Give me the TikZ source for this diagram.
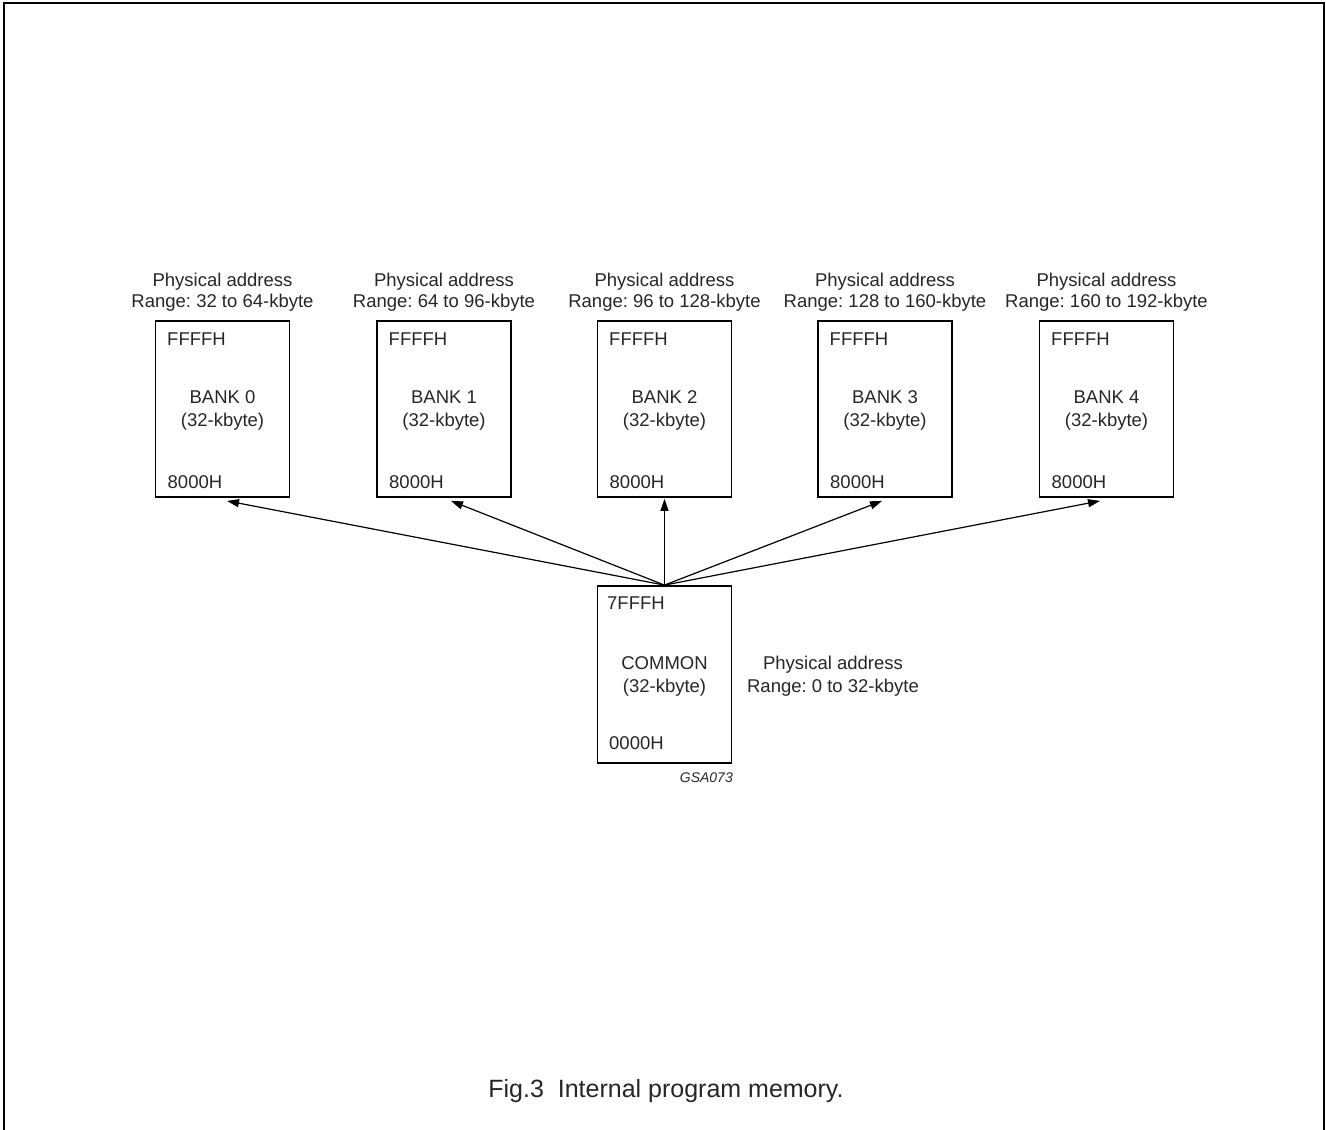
\documentclass[tikz,border=0pt]{standalone}
\usepackage{fontspec}
\setmainfont{Liberation Sans}
\usetikzlibrary{arrows.meta}
\frenchspacing
\begin{document}
\begin{tikzpicture}[x=1pt,y=-1pt,
  every node/.style={font=\fontsize{18.5}{22}\selectfont, inner sep=0pt, text=black!85},
  mem/.style={draw, line width=1.8pt, minimum width=134pt, minimum height=176pt},
  lbl/.style={anchor=base west},
  ctr/.style={anchor=base},
  arr/.style={line width=1.2pt, -{Triangle[length=12pt,width=8pt]}},
  capt/.style={anchor=base, font=\fontsize{25}{30}\selectfont}]
\useasboundingbox (0,0) rectangle (1326,1130);
\draw[line width=2pt] (4,1130) -- (4,3) -- (1324,3) -- (1324,1130);

% banks
\foreach \i/\cx/\lo/\hi in {0/222.5/32/64, 1/444/64/96, 2/664.5/96/128, 3/885/128/160, 4/1106.5/160/192} {
  \node[mem] (b\i) at (\cx,409) {};
  \node[ctr] (pa\i) at (\cx,286) {Physical address};
  \node[ctr] (rg\i) at (\cx,307) {Range: \lo{} to \hi-kbyte};
  \node[lbl] (top\i) at (\cx-55.5,345.5) {FFFFH};
  \node[ctr] (nm\i) at (\cx,403.5) {BANK \i};
  \node[ctr] (sz\i) at (\cx,426.5) {(32-kbyte)};
  \node[lbl] (bot\i) at (\cx-55,488.5) {8000H};
}

% common
\node[mem, minimum height=177pt] (com) at (664.5,674.5) {};
\node[lbl] (ctop) at (607,609.5) {7FFFH};
\node[ctr] (cnm) at (664.5,669.5) {COMMON};
\node[ctr] (csz) at (664.5,692.5) {(32-kbyte)};
\node[lbl] (cbot) at (609,749.5) {0000H};
\node[ctr] (cpa) at (833,669.5) {Physical address};
\node[ctr] (crg) at (833,692.5) {Range: 0 to 32-kbyte};
\node[anchor=base east, font=\fontsize{14}{16}\selectfont\itshape] (gsa) at (733,782) {GSA073};

% arrows
\draw[arr] (com.north) -- ([xshift=4.5pt,yshift=-3pt]b0.south);
\draw[arr] (com.north) -- ([xshift=7pt,yshift=-3pt]b1.south);
\draw[arr] (com.north) -- ([yshift=-1pt]b2.south);
\draw[arr] (com.north) -- ([xshift=-3pt,yshift=-3pt]b3.south);
\draw[arr] (com.north) -- ([xshift=-6.5pt,yshift=-3pt]b4.south);

% caption
\node[capt] (cap) at (666,1097) {Fig.3~~Internal program memory.};
\end{tikzpicture}
\end{document}
